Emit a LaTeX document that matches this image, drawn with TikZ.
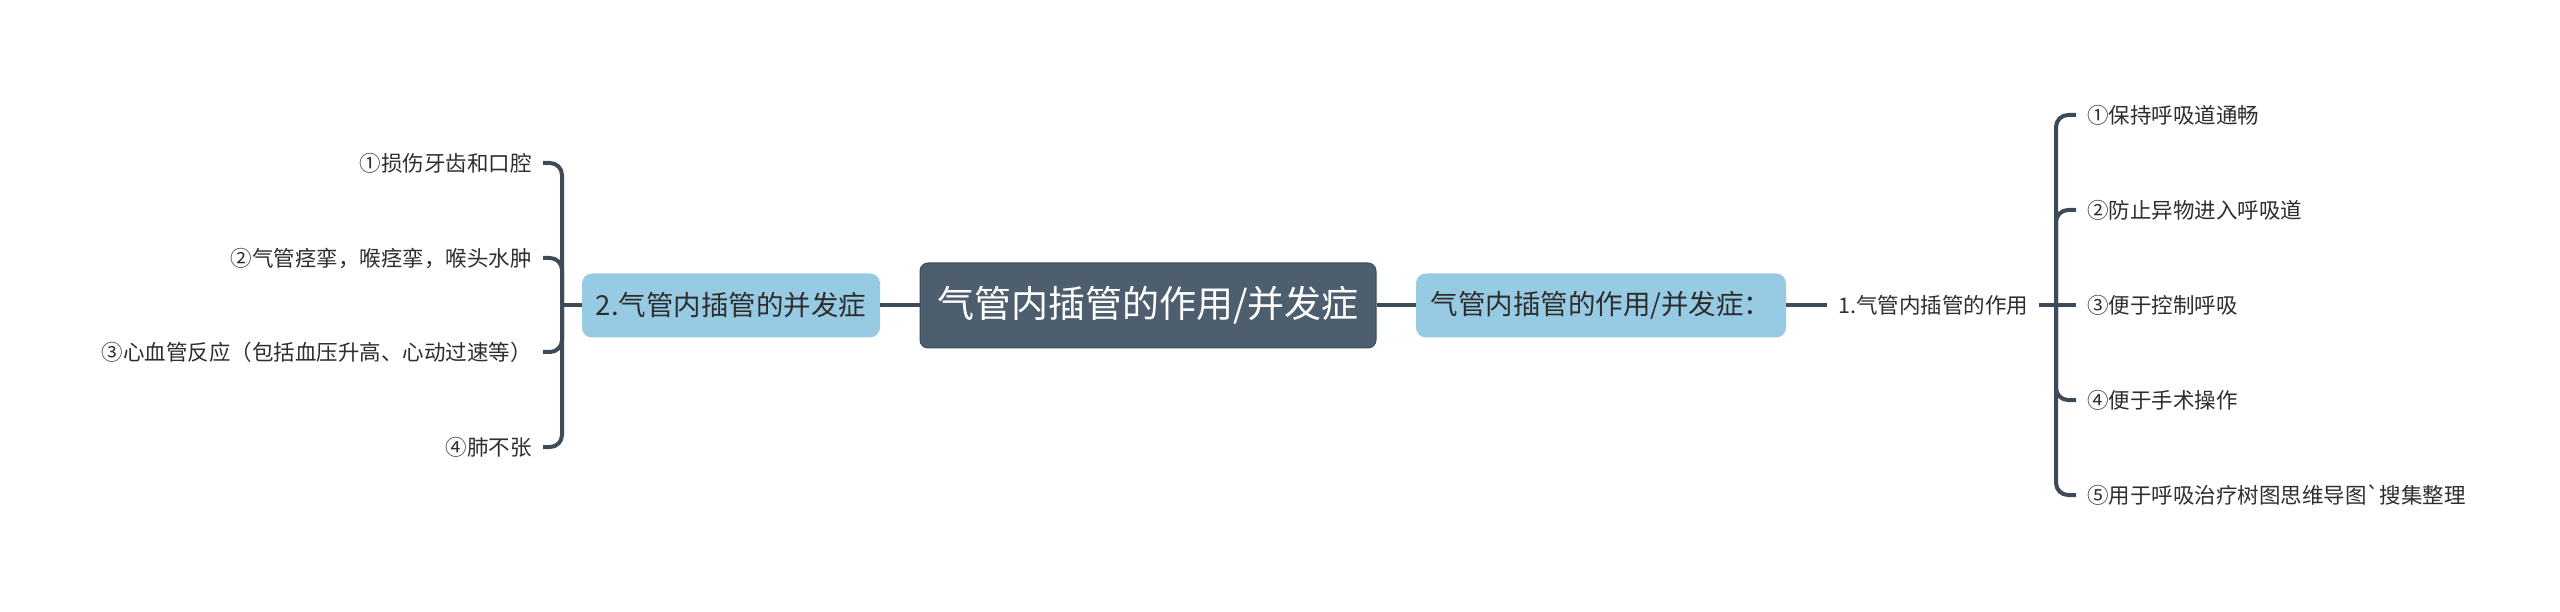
\documentclass[tikz,border=0pt]{standalone}
\usepackage{fontspec}
\setmainfont{Noto Sans CJK SC}[Ligatures=TeXOff]
\definecolor{rootc}{HTML}{4D5E6E}
\definecolor{rootb}{HTML}{3E4C5A}
\definecolor{bluec}{HTML}{97CBE4}
\definecolor{linec}{HTML}{3D4A57}
\definecolor{textc}{HTML}{2E2E2E}
\begin{document}
\begin{tikzpicture}[x=1pt,y=-1pt,
  rootbox/.style={fill=rootc, draw=rootb, line width=1pt, rounded corners=8pt, text=white,
    font=\fontsize{37}{40}\selectfont, minimum width=456pt, minimum height=85pt, inner sep=0pt},
  subbox/.style={fill=bluec, rounded corners=10pt, text=textc,
    font=\fontsize{27.5}{30}\selectfont, minimum height=64pt, inner sep=0pt},
  leaf/.style={text=textc, font=\fontsize{21.5}{24}\selectfont, inner xsep=11pt, inner ysep=0pt},
  conn/.style={draw=linec, line width=4pt},
  branch/.style={conn, rounded corners=12pt}]
\useasboundingbox[fill=white] (0,0) rectangle (2560,612);
% central and first-level nodes
\node[rootbox] (root) at (1148,305.5) {气管内插管的作用/并发症};
\node[subbox, minimum width=370pt] (r1) at (1601,305.5) {气管内插管的作用/并发症：};
\node[subbox, minimum width=298pt] (l1) at (731,305.5) {2.气管内插管的并发症};
\node[leaf, anchor=west] (r2) at (1827,305.5) {1.气管内插管的作用};
% junctions
\coordinate (rj) at (2056,305.5);
\coordinate (lj) at (562,305.5);
% right leaves
\node[leaf, anchor=west] (a1) at (2076,115) {①保持呼吸道通畅};
\node[leaf, anchor=west] (a2) at (2076,210) {②防止异物进入呼吸道};
\node[leaf, anchor=west] (a3) at (2076,305.5) {③便于控制呼吸};
\node[leaf, anchor=west] (a4) at (2076,400) {④便于手术操作};
\node[leaf, anchor=west] (a5) at (2076,495) {⑤用于呼吸治疗树图思维导图`搜集整理};
% left leaves
\node[leaf, anchor=east] (b1) at (543,163) {①损伤牙齿和口腔};
\node[leaf, anchor=east] (b2) at (543,258) {②气管痉挛，喉痉挛，喉头水肿};
\node[leaf, anchor=east] (b3) at (543,352) {③心血管反应（包括血压升高、心动过速等）};
\node[leaf, anchor=east] (b4) at (543,447) {④肺不张};
% connectors
\draw[conn] (root.east) -- (r1.west);
\draw[conn] (l1.east) -- (root.west);
\draw[conn] (r1.east) -- (r2.west);
\draw[conn] (r2.east) -- (rj);
\draw[conn] (l1.west) -- (lj);
\draw[branch] (rj) |- (a1.west);
\draw[branch] (rj) |- (a2.west);
\draw[conn] (rj) -- (a3.west);
\draw[branch] (rj) |- (a4.west);
\draw[branch] (rj) |- (a5.west);
\draw[branch] (lj) |- (b1.east);
\draw[branch] (lj) |- (b2.east);
\draw[branch] (lj) |- (b3.east);
\draw[branch] (lj) |- (b4.east);
\end{tikzpicture}
\end{document}
